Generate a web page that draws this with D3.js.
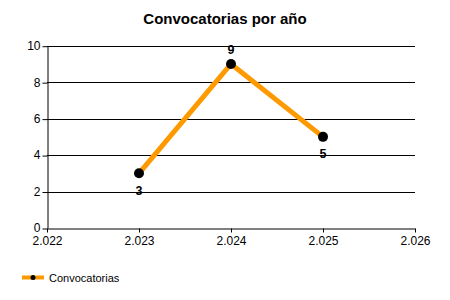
<!DOCTYPE html>
<html><head><meta charset="utf-8">
<script src="https://cdn.jsdelivr.net/npm/d3@7"></script>
<style>body{margin:0;background:#fff}svg{display:block}text{font-family:"Liberation Sans",Arial,sans-serif}</style>
</head><body><svg id="c" width="450" height="300"></svg>
<script>
const years = [2023, 2024, 2025];
const values = [3, 9, 5];
const xTicks = [2022, 2023, 2024, 2025, 2026];
const yTicks = [0, 2, 4, 6, 8, 10];
const labelPos = ["below", "above", "below"];
const title = "Convocatorias por año";
const seriesName = "Convocatorias";

const svg = d3.select("#c");
const x = d3.scaleLinear().domain([2022, 2026]).range([47, 415]);
const y = d3.scaleLinear().domain([0, 10]).range([228, 45.7]);
const fmt = d => d3.format(",")(d).replace(",", ".");

svg.append("text").attr("x", 225).attr("y", 24).attr("text-anchor", "middle")
  .attr("font-weight", "bold").attr("font-size", 15).text(title);

// grid
svg.append("g").selectAll("line").data(yTicks.filter(d => d > 0)).join("line")
  .attr("x1", 47).attr("x2", 415).attr("y1", d => Math.round(y(d)) + 0.5).attr("y2", d => Math.round(y(d)) + 0.5)
  .attr("stroke", "#000").attr("stroke-width", 1);

// y axis
const ya = svg.append("g").attr("transform", "translate(47.5,0)")
  .call(d3.axisLeft(y).tickValues(yTicks).tickSize(5).tickSizeOuter(0).tickFormat(d3.format("d")));
ya.select(".domain").attr("stroke", "#000");
ya.selectAll(".tick line").attr("stroke", "#000").attr("transform", "translate(0,0.5)");
ya.selectAll(".tick text").attr("font-size", 12).attr("fill", "#000").attr("x", -7).attr("font-family", "Liberation Sans, Arial");

// x axis
const xa = svg.append("g").attr("transform", "translate(0,228.5)")
  .call(d3.axisBottom(x).tickValues(xTicks).tickSize(4).tickSizeOuter(0).tickFormat(fmt));
xa.select(".domain").attr("stroke", "#000");
xa.selectAll(".tick line").attr("stroke", "#000");
xa.selectAll(".tick text").attr("font-size", 12).attr("fill", "#000").attr("y", 8).attr("font-family", "Liberation Sans, Arial");

const pts = years.map((d, i) => [d, values[i]]);
svg.append("path").datum(pts)
  .attr("d", d3.line().x(d => x(d[0])).y(d => y(d[1])))
  .attr("fill", "none").attr("stroke", "#FF9900").attr("stroke-width", 5).attr("stroke-linejoin", "miter");

svg.append("g").selectAll("circle").data(pts).join("circle")
  .attr("cx", d => x(d[0])).attr("cy", d => y(d[1])).attr("r", 5).attr("fill", "#000");

svg.append("g").selectAll("text").data(pts).join("text")
  .attr("x", d => x(d[0]))
  .attr("y", (d, i) => labelPos[i] === "above" ? y(d[1]) - 10 : y(d[1]) + 21.5)
  .attr("text-anchor", "middle").attr("font-weight", "bold").attr("font-size", 12.5)
  .text(d => d[1]);

// legend
const lg = svg.append("g");
lg.append("line").attr("x1", 22).attr("x2", 44).attr("y1", 277.5).attr("y2", 277.5)
  .attr("stroke", "#FF9900").attr("stroke-width", 4);
lg.append("circle").attr("cx", 33).attr("cy", 277.5).attr("r", 2.5).attr("fill", "#000");
lg.append("text").attr("x", 49).attr("y", 281.5).attr("font-size", 11).text(seriesName);
</script></body></html>
